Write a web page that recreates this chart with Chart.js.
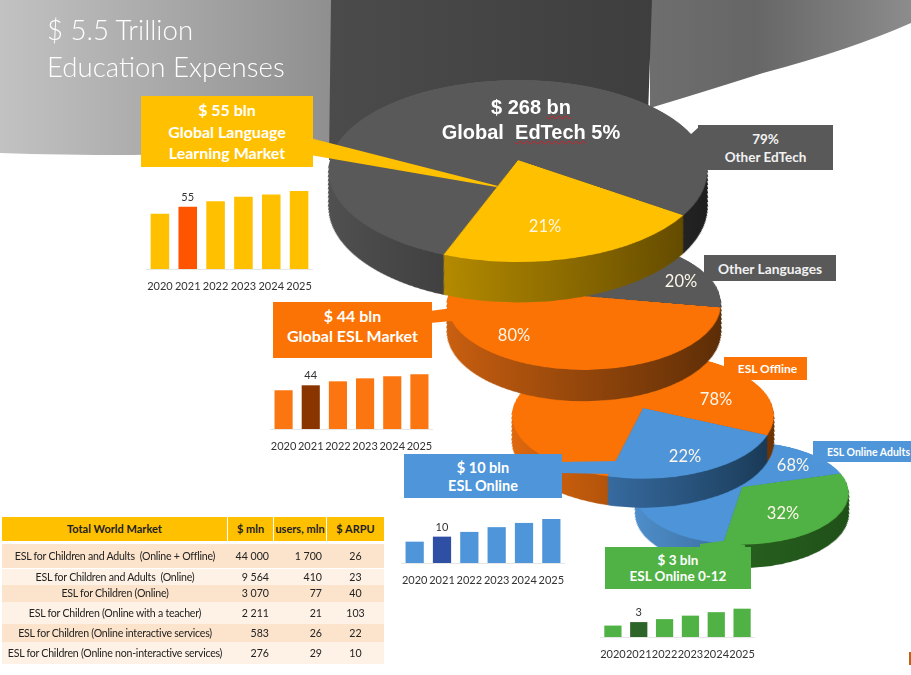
<!DOCTYPE html>
<html><head><meta charset="utf-8">
<script src="https://cdn.jsdelivr.net/npm/chart.js"></script>
<style>
html,body{margin:0;padding:0;background:#fff;width:911px;height:675px;overflow:hidden}
#stage{position:relative;width:911px;height:675px;overflow:hidden;font-family:Lato,sans-serif}
#stage canvas{position:absolute;display:block}
svg.layer{position:absolute;left:0;top:0}
.box,.pct,.txt{position:absolute;z-index:20;color:#fff;text-align:center;white-space:nowrap}
.box{display:flex;flex-direction:column;justify-content:center;font-weight:700;box-sizing:border-box}
.pct{font-size:16.5px;transform:translate(-50%,-50%);color:#fdf6ea}
.sq{text-decoration:underline wavy #d0202a;text-decoration-thickness:1.2px;text-underline-offset:1px}
#table{position:absolute;z-index:20;left:2px;top:517px;width:382px;color:#222;font-size:10.6px}
#table .row{position:absolute;left:0;display:flex;align-items:center;width:382px}
#table .c{box-sizing:border-box;text-align:center;white-space:nowrap}
</style></head><body><div id="stage">

<svg class="layer" width="911" height="675" style="z-index:1">
<defs>
<linearGradient id="gL" x1="0" x2="1" y1="0" y2="0"><stop offset="0" stop-color="#c2c2c2"/><stop offset="1" stop-color="#8f8f8f"/></linearGradient>
<linearGradient id="gR" x1="0" x2="1" y1="0" y2="0"><stop offset="0" stop-color="#6e6e6e"/><stop offset=".4" stop-color="#666"/><stop offset="1" stop-color="#8c8c8c"/></linearGradient>
<linearGradient id="gC" x1="0" x2="1" y1="0" y2="0"><stop offset="0" stop-color="#4b4b4b"/><stop offset="1" stop-color="#3e3e3e"/></linearGradient>
</defs>
<path d="M0 0H332V152L130 155Q60 155 0 153Z" fill="url(#gL)"/>
<path d="M650 0H911V23Q850 50 763 73Q700 93 650 108Z" fill="url(#gR)"/>
<path d="M331 0H652L648 115L329 160Z" fill="url(#gC)"/>
</svg>

<svg class="layer" width="911" height="675" style="z-index:10">
<polygon points="310,138 498,186 496,187 310,155" fill="#FFC000"/>
<polygon points="430,311 452,308 452,321 430,323" fill="#FB7304"/>
<polygon points="560,462 618,461 610,474 560,473" fill="#4E95D9"/>
<polygon points="700,544 722,541 745,545 745,552 700,552" fill="#50B244"/>
<polygon points="700,126 690,135 700,150" fill="#595959"/>
</svg>

<div class="txt" style="left:47px;top:11px;font-size:27.6px;font-weight:300;color:#fff;text-align:left;line-height:37px">$ 5.5 Trillion<br>Education Expenses</div>
<div class="txt" style="left:431px;top:95px;width:200px;font-family:'Liberation Sans';font-weight:700;font-size:20px;line-height:25px">$ 268 <span class="sq">bn</span><br>Global&nbsp; <span class="sq">EdTech</span> 5%</div>

<div class="box" style="left:141px;top:96px;width:172px;height:71px;background:#FFC000;font-size:16px;line-height:21.5px"><div>$ 55 bln</div><div>Global Language</div><div>Learning Market</div></div>
<div class="box" style="left:698px;top:125px;width:135px;height:45px;background:#595959;font-size:13.5px;line-height:18px;color:#f2f2f2"><div>79%</div><div>Other EdTech</div></div>
<div class="box" style="left:704px;top:255px;width:132px;height:26px;background:#595959;font-size:13.8px;color:#f2f2f2"><div>Other Languages</div></div>
<div class="box" style="left:273px;top:302px;width:159px;height:56px;background:#FB7304;font-size:16px;line-height:20px;padding-bottom:8px"><div>$ 44 bln</div><div>Global ESL Market</div></div>
<div class="box" style="left:724px;top:357px;width:83px;height:23px;background:#FB7304;font-size:12px;padding-left:4px"><div>ESL Offline</div></div>
<div class="box" style="left:813px;top:441px;width:98px;height:21px;background:#4E95D9;font-size:10.5px;text-align:left;padding-left:14px"><div>ESL Online Adults</div></div>
<div class="box" style="left:404px;top:454px;width:158px;height:44px;background:#4E95D9;font-size:14.5px;line-height:18.5px;padding-top:2px"><div>$ 10 bln</div><div>ESL Online</div></div>
<div class="box" style="left:605px;top:547px;width:146px;height:42px;background:#50B244;font-size:13.5px;line-height:16.5px"><div>$ 3 bln</div><div>ESL Online 0-12</div></div>

<div class="pct" style="left:545px;top:226px">21%</div>
<div class="pct" style="left:681px;top:281px">20%</div>
<div class="pct" style="left:514px;top:335px">80%</div>
<div class="pct" style="left:716px;top:399px">78%</div>
<div class="pct" style="left:685px;top:456px">22%</div>
<div class="pct" style="left:793px;top:465px">68%</div>
<div class="pct" style="left:783px;top:513px">32%</div>

<div id="table"></div>
<div style="position:absolute;z-index:20;left:909px;top:652px;width:2px;height:13px;background:#c9600f"></div>
</div>

<script>
// ---------- data ----------
const years = ['2020','2021','2022','2023','2024','2025'];
const languageMarket = [49,55,60,64,66,69];
const eslMarket = [39,44,48,51,53,55];
const eslOnline = [8.1,10,11.8,13.6,15.2,16.7];
const eslOnlineKids = [2.3,3,3.6,4.3,5,5.7];
const labelledYear = 1;

const edtechShare = [21,79];
const languageShare = [80,20];
const eslShare = [22,78];
const onlineShare = [32,68];

const tableHead = ['Total World Market','$ mln','users, mln','$ ARPU'];
const tableNames = ['ESL for Children and Adults  (Online + Offline)','ESL for Children and Adults  (Online)','ESL for Children (Online)','ESL for Children (Online with a teacher)','ESL for Children (Online interactive services)','ESL for Children (Online non-interactive services)'];
const tableMln = ['44 000','9 564','3 070','2 211','583','276'];
const tableUsers = ['1 700','410','77','21','26','29'];
const tableArpu = ['26','23','40','103','22','10'];

// ---------- table ----------
const colW = [226,46,53,57];
const rowTop = [27,52,68,85,107,125];
const rowH = [24,16,17,22,18,22];
const tbl = document.getElementById('table');
function addRow(cells, top, h, bg, bold){
  const r = document.createElement('div'); r.className='row';
  r.style.top = top+'px'; r.style.height = h+'px';
  cells.forEach((t,i)=>{
    const c = document.createElement('div'); c.className='c';
    c.style.width = colW[i]+'px'; c.style.height=h+'px'; c.style.lineHeight=h+'px';
    c.style.background = bg; c.style.whiteSpace='pre';
    if(bold){
      c.style.fontWeight='700';c.style.fontSize='11px';
      if(i<colW.length-1) c.style.borderRight='1px solid #fff';
    } else {
      if(i===0) c.style.letterSpacing='-0.25px';
      if(i===1||i===2){c.style.textAlign='right';c.style.paddingRight='5px';}
    }
    c.textContent = t; r.appendChild(c);
  });
  tbl.appendChild(r);
}
addRow(tableHead,0,24,'#FFC000',true);
tableNames.forEach((n,i)=>addRow([n,tableMln[i],tableUsers[i],tableArpu[i]],rowTop[i],rowH[i],i%2?'#FEF2E6':'#FCE4CC',false));

// ---------- bar charts ----------
const valueLabel = {id:'valueLabel',afterDatasetsDraw(chart){
  const bar = chart.getDatasetMeta(0).data[labelledYear];
  const c = chart.ctx; c.save();
  c.font='11px Lato'; c.fillStyle='#333'; c.textAlign='center'; c.textBaseline='bottom';
  c.fillText(String(chart.data.datasets[0].data[labelledYear]),bar.x,bar.y-4);
  c.restore();
}};
function barChart(vals,base,hi,left,top,width,baseline,yMax){
  const cv=document.createElement('canvas');
  const axisH=26;
  cv.width=width; cv.height=baseline-top+axisH;
  cv.style.left=left+'px'; cv.style.top=top+'px'; cv.style.zIndex=15;
  document.getElementById('stage').appendChild(cv);
  new Chart(cv,{type:'bar',plugins:[valueLabel],
    data:{labels:years,datasets:[{data:vals,backgroundColor:years.map((_,i)=>i===labelledYear?hi:base),barPercentage:.667,categoryPercentage:1}]},
    options:{responsive:false,animation:false,events:[],
      layout:{padding:0},
      plugins:{legend:{display:false},tooltip:{enabled:false}},
      scales:{
        y:{display:false,min:0,max:yMax},
        x:{afterFit:s=>{s.height=axisH;s.paddingLeft=0;s.paddingRight=0;},grid:{display:false},border:{color:'#e6e6e6'},
           ticks:{autoSkip:false,maxRotation:0,minRotation:0,padding:3,color:'#333',font:{family:'Lato',size:11}}}
      }}});
}
barChart(languageMarket,'#FFC000','#FF5500',146,175,167,269.5,83.2);
barChart(eslMarket,'#FB7510','#8A3500',270,355,163,429.5,74.5);
barChart(eslOnline,'#4E95D9','#2E4FA3',401,500,164,563.7,23.9);
barChart(eslOnlineKids,'#50B244','#2D6427',600,590,155,637.3,9.46);

// ---------- tilted 3D pies ----------
const tilt = 61.5*Math.PI/180, persp = .121;
const sideWalls = {id:'sideWalls',beforeDatasetsDraw(chart,args,o){
  const c=chart.ctx, arcs=chart.getDatasetMeta(0).data, R=o.R;
  const grads=o.sides.map(p=>{const g=c.createLinearGradient(0,0,2*R,0);g.addColorStop(0,p[0]);g.addColorStop(1,p[1]);return g;});
  for(let e=o.E;e>0;e-=1){
    const k=1-e*o.sin/o.d;
    c.save();
    c.translate(R,R+e); c.scale(k,k); c.translate(-R,-R);
    arcs.forEach((a,i)=>{const keep=a.options; a.options=Object.assign({},keep,{backgroundColor:grads[i]}); a.draw(c); a.options=keep;});
    c.restore();
  }
}};
function pie3d(vals,tops,sides,cx,cy,R,depth,rot,z){
  const s=Math.sin(tilt), co=Math.cos(tilt), d=R*s/persp;
  const proj=y=>y*co*d/(d-y*s);
  let lo=0,hi=R*1.2;
  for(let i=0;i<30;i++){const E=(lo+hi)/2,k=1-E*s/d; if(proj(E+k*R)-proj(R)<depth)lo=E;else hi=E;}
  const E=Math.ceil(lo);
  const cv=document.createElement('canvas');
  cv.width=2*R; cv.height=2*R+E+4;
  cv.style.cssText=`left:${cx-R}px;top:${cy-R}px;z-index:${z};transform-origin:${R}px ${R}px;transform:perspective(${d}px) rotateX(${tilt}rad)`;
  document.getElementById('stage').appendChild(cv);
  new Chart(cv,{type:'pie',plugins:[sideWalls],
    data:{datasets:[{data:vals,backgroundColor:tops,borderWidth:0}]},
    options:{responsive:false,animation:false,events:[],rotation:rot,
      layout:{padding:{bottom:E+4}},
      plugins:{legend:{display:false},tooltip:{enabled:false},sideWalls:{R,E,d,sin:s,sides}}}});
}
pie3d(onlineShare,['#50B244','#4E94D8'],[['#2f7025','#1f4f18'],['#4f8fcc','#254a70']],742,487,106,23,74,2);
pie3d(eslShare,['#4E94D8','#FB7304'],[['#4a8ad0','#173650'],['#e0690e','#6a3204']],643,408,130,29,114.7,3);
pie3d(languageShare,['#FB7304','#595959'],[['#cc6010','#5a2c06'],['#333','#222']],584,296,136,31,100,4);
pie3d(edtechShare,['#FFC000','#595959'],[['#e0ad00','#574100'],['#515151','#1e1e1e']],518,160,188,40,125,5);
</script>
</body></html>
